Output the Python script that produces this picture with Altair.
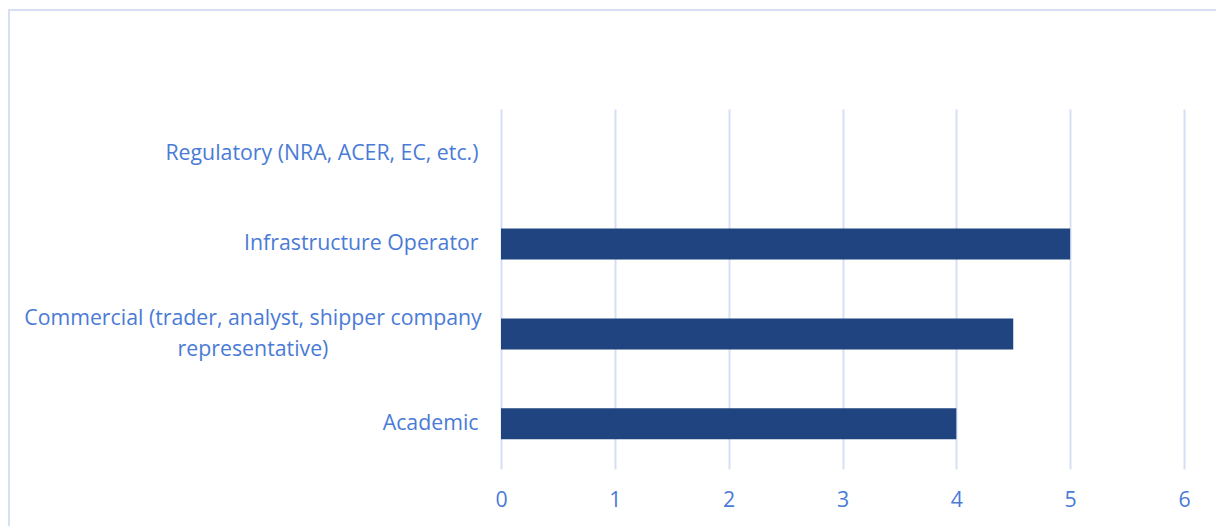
import altair as alt
import pandas as pd

categories = [
    "Regulatory (NRA, ACER, EC, etc.)",
    "Infrastructure Operator",
    "Commercial (trader, analyst, shipper company|representative)",
    "Academic",
]
values = [0, 5, 4.5, 4]
x_ticks = [0, 1, 2, 3, 4, 5, 6]
wrapped = ["Commercial (trader, analyst, shipper company|representative)"]

df = pd.DataFrame({"category": categories, "value": values})
df_wrapped = pd.DataFrame({"category": wrapped})

TEXT = "#4A7BD6"
GRID = "#D6DFF3"
BAR = "#1F4480"
FONT = "Open Sans"
FS = 21.3

y_enc = alt.Y(
    "category:N",
    sort=categories,
    scale=alt.Scale(paddingInner=0.655, paddingOuter=0.33),
    axis=alt.Axis(
        title=None,
        domain=False,
        ticks=False,
        grid=False,
        labelColor=TEXT,
        labelFont=FONT,
        labelFontSize=FS,
        labelPadding=23,
        labelLimit=600,
        labelExpr="indexof(datum.label, '|') >= 0 ? '' : datum.label",
    ),
)

bars = alt.Chart(df).mark_bar(color=BAR).encode(
    x=alt.X(
        "value:Q",
        scale=alt.Scale(domain=[0, 6], nice=False),
        axis=alt.Axis(
            values=x_ticks,
            title=None,
            grid=True,
            gridColor=GRID,
            gridWidth=2,
            domain=False,
            ticks=False,
            labelColor=TEXT,
            labelFont=FONT,
            labelFontSize=FS,
            labelPadding=20,
            labelFlush=False,
            format="d",
        ),
    ),
    y=y_enc,
)

wrapped_label = alt.Chart(df_wrapped).mark_text(
    align="center",
    baseline="middle",
    color=TEXT,
    font=FONT,
    fontSize=FS,
    lineBreak="|",
    lineHeight=31,
    dy=-15,
).encode(
    y=alt.Y("category:N", sort=categories),
    x=alt.value(-248),
    text="category:N",
)

border = alt.Chart(df).mark_rect(
    fill=None, stroke=GRID, strokeWidth=2
).encode(
    x=alt.value(-492), x2=alt.value(716), y=alt.value(-99), y2=alt.value(430)
)

chart = alt.layer(border, bars, wrapped_label).properties(
    width=683,
    height=360,
    autosize=alt.AutoSizeParams(type="none"),
    padding={"left": 501, "top": 109, "right": 32, "bottom": 57},
).configure_view(stroke=None)

chart.save("out.html", embed_options={"renderer": "svg", "actions": False})
